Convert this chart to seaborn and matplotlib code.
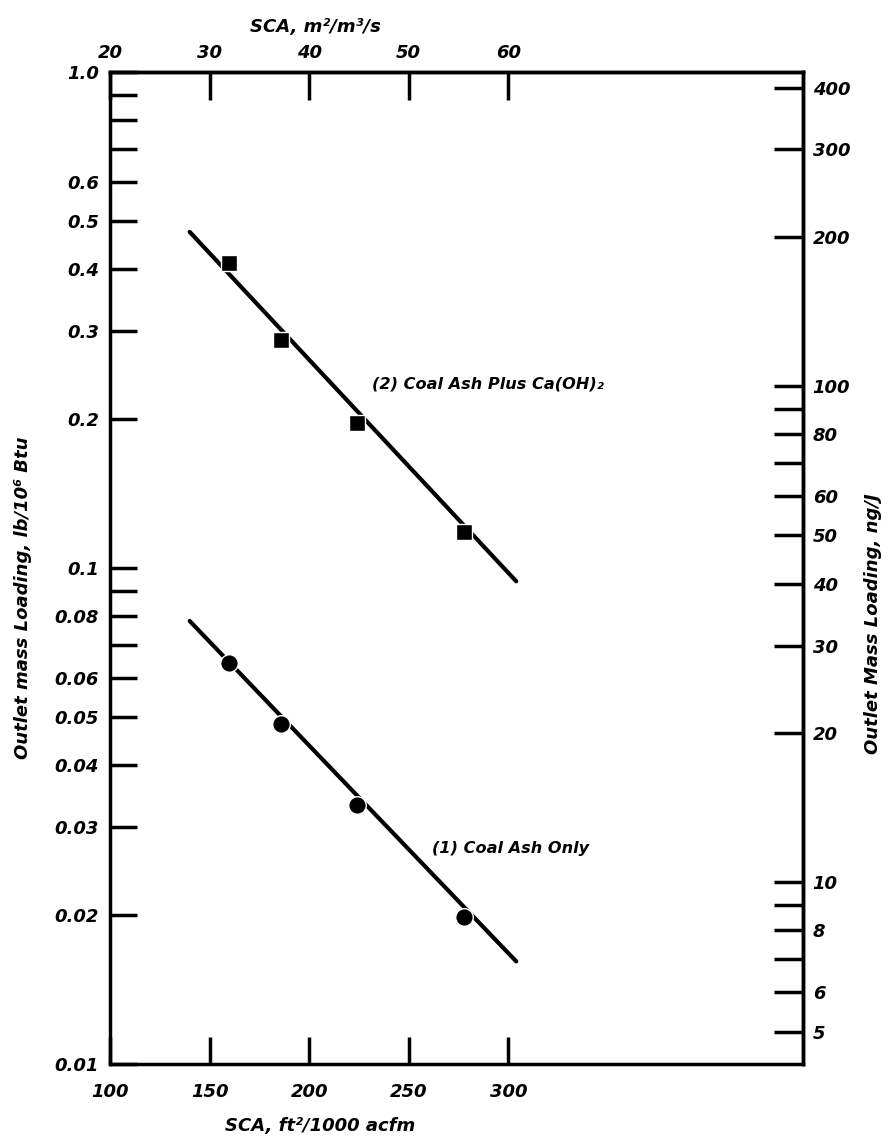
import matplotlib
matplotlib.use("Agg")
import matplotlib.pyplot as plt
import seaborn as sns
from matplotlib.ticker import NullFormatter

# measured points, SCA in ft2/1000 acfm
sca = [160, 186, 224, 278]
ash_only = [0.0643, 0.0485, 0.0333, 0.0198]      # (1) coal ash only
ash_caoh2 = [0.412, 0.288, 0.196, 0.118]         # (2) coal ash plus Ca(OH)2

# drawn trend lines (end points)
fit_sca = [140, 304]
fit_ash_only = [0.0782, 0.0161]
fit_ash_caoh2 = [0.476, 0.094]

x_ticks = [100, 150, 200, 250, 300]
top_ticks = [20, 30, 40, 50, 60]
y_major = [1.0, 0.6, 0.5, 0.4, 0.3, 0.2, 0.1, 0.08, 0.06, 0.05, 0.04, 0.03, 0.02, 0.01]
y_major_labels = ["1.0", "0.6", "0.5", "0.4", "0.3", "0.2", "0.1",
                  "0.08", "0.06", "0.05", "0.04", "0.03", "0.02", "0.01"]
y_minor = [0.9, 0.8, 0.7, 0.09, 0.07]
r_major = [400, 300, 200, 100, 80, 60, 50, 40, 30, 20, 10, 8, 6, 5]
r_minor = [90, 70, 9, 7]

SCA_SI = 0.2        # the chart puts 30 m2/m3/s over 150 ft2/1000 acfm
LB_TO_NGJ = 430.0   # lb/10^6 Btu -> ng/J

sns.set_style("white")
plt.rcParams['font.family'] = ['DejaVu Sans']
plt.rcParams['font.style'] = 'italic'
plt.rcParams['font.weight'] = 'bold'
plt.rcParams['axes.labelweight'] = 'bold'
plt.rcParams['font.size'] = 13
for key in ['text.color', 'axes.labelcolor', 'xtick.color', 'ytick.color', 'axes.edgecolor']:
    plt.rcParams[key] = 'black'

fig, ax = plt.subplots(figsize=(8.95, 11.42), dpi=100)
fig.subplots_adjust(left=0.1229, right=0.8972, bottom=0.0683, top=0.937)

sns.lineplot(x=fit_sca, y=fit_ash_caoh2, ax=ax, color='black', linewidth=3)
sns.lineplot(x=fit_sca, y=fit_ash_only, ax=ax, color='black', linewidth=3)
sns.scatterplot(x=sca, y=ash_caoh2, ax=ax, marker='s', s=130, color='black',
                edgecolor='white', linewidth=1.0, zorder=3)
sns.scatterplot(x=sca, y=ash_only, ax=ax, marker='o', s=160, color='black',
                edgecolor='white', linewidth=1.0, zorder=3)

ax.set_yscale('log')
ax.set_xlim(100, 448)
ax.set_ylim(0.01, 1.0)

ax.set_xticks(x_ticks)
ax.set_xticklabels([str(v) for v in x_ticks])
ax.set_yticks(y_major)
ax.set_yticklabels(y_major_labels)
ax.set_yticks(y_minor, minor=True)
ax.yaxis.set_minor_formatter(NullFormatter())
ax.tick_params(which='both', direction='in', length=19.5, width=2.5,
               left=True, bottom=True, top=False, right=False)
ax.tick_params(axis='x', pad=14)
ax.tick_params(axis='y', pad=8)
for sp in ax.spines.values():
    sp.set_linewidth(2.5)
    sp.set_visible(True)

# top scale in m2/m3/s
secx = ax.secondary_xaxis('top', functions=(lambda x: x * SCA_SI, lambda x: x / SCA_SI))
secx.set_xticks(top_ticks)
secx.set_xticklabels([str(v) for v in top_ticks])
secx.tick_params(direction='in', length=20, width=2.5, pad=7, top=True)
secx.spines['top'].set_linewidth(2.5)
secx.set_xlabel("SCA, m²/m³/s", labelpad=9)
secx.xaxis.label.set_x(0.297)

# right scale in ng/J
secy = ax.secondary_yaxis('right', functions=(lambda y: y * LB_TO_NGJ, lambda y: y / LB_TO_NGJ))
secy.set_yticks(r_major)
secy.set_yticklabels([str(v) for v in r_major])
secy.set_yticks(r_minor, minor=True)
secy.yaxis.set_minor_formatter(NullFormatter())
secy.tick_params(which='both', direction='in', length=21, width=2.5, pad=7, right=True)
secy.spines['right'].set_linewidth(2.5)
secy.set_ylabel("Outlet Mass Loading, ng/J", labelpad=10)
secy.yaxis.label.set_y(0.4435)

ax.set_xlabel("SCA, ft²/1000 acfm", labelpad=11)
ax.xaxis.label.set_x(0.303)
ax.set_ylabel("Outlet mass Loading, lb/10⁶ Btu", labelpad=16)
ax.yaxis.label.set_y(0.47)

ax.text(231.7, 0.235, "(2) Coal Ash Plus Ca(OH)₂", fontsize=11.6, ha='left', va='center')
ax.text(261.8, 0.02725, "(1) Coal Ash Only", fontsize=11.6, ha='left', va='center')

fig.savefig("out.png", dpi=100)
